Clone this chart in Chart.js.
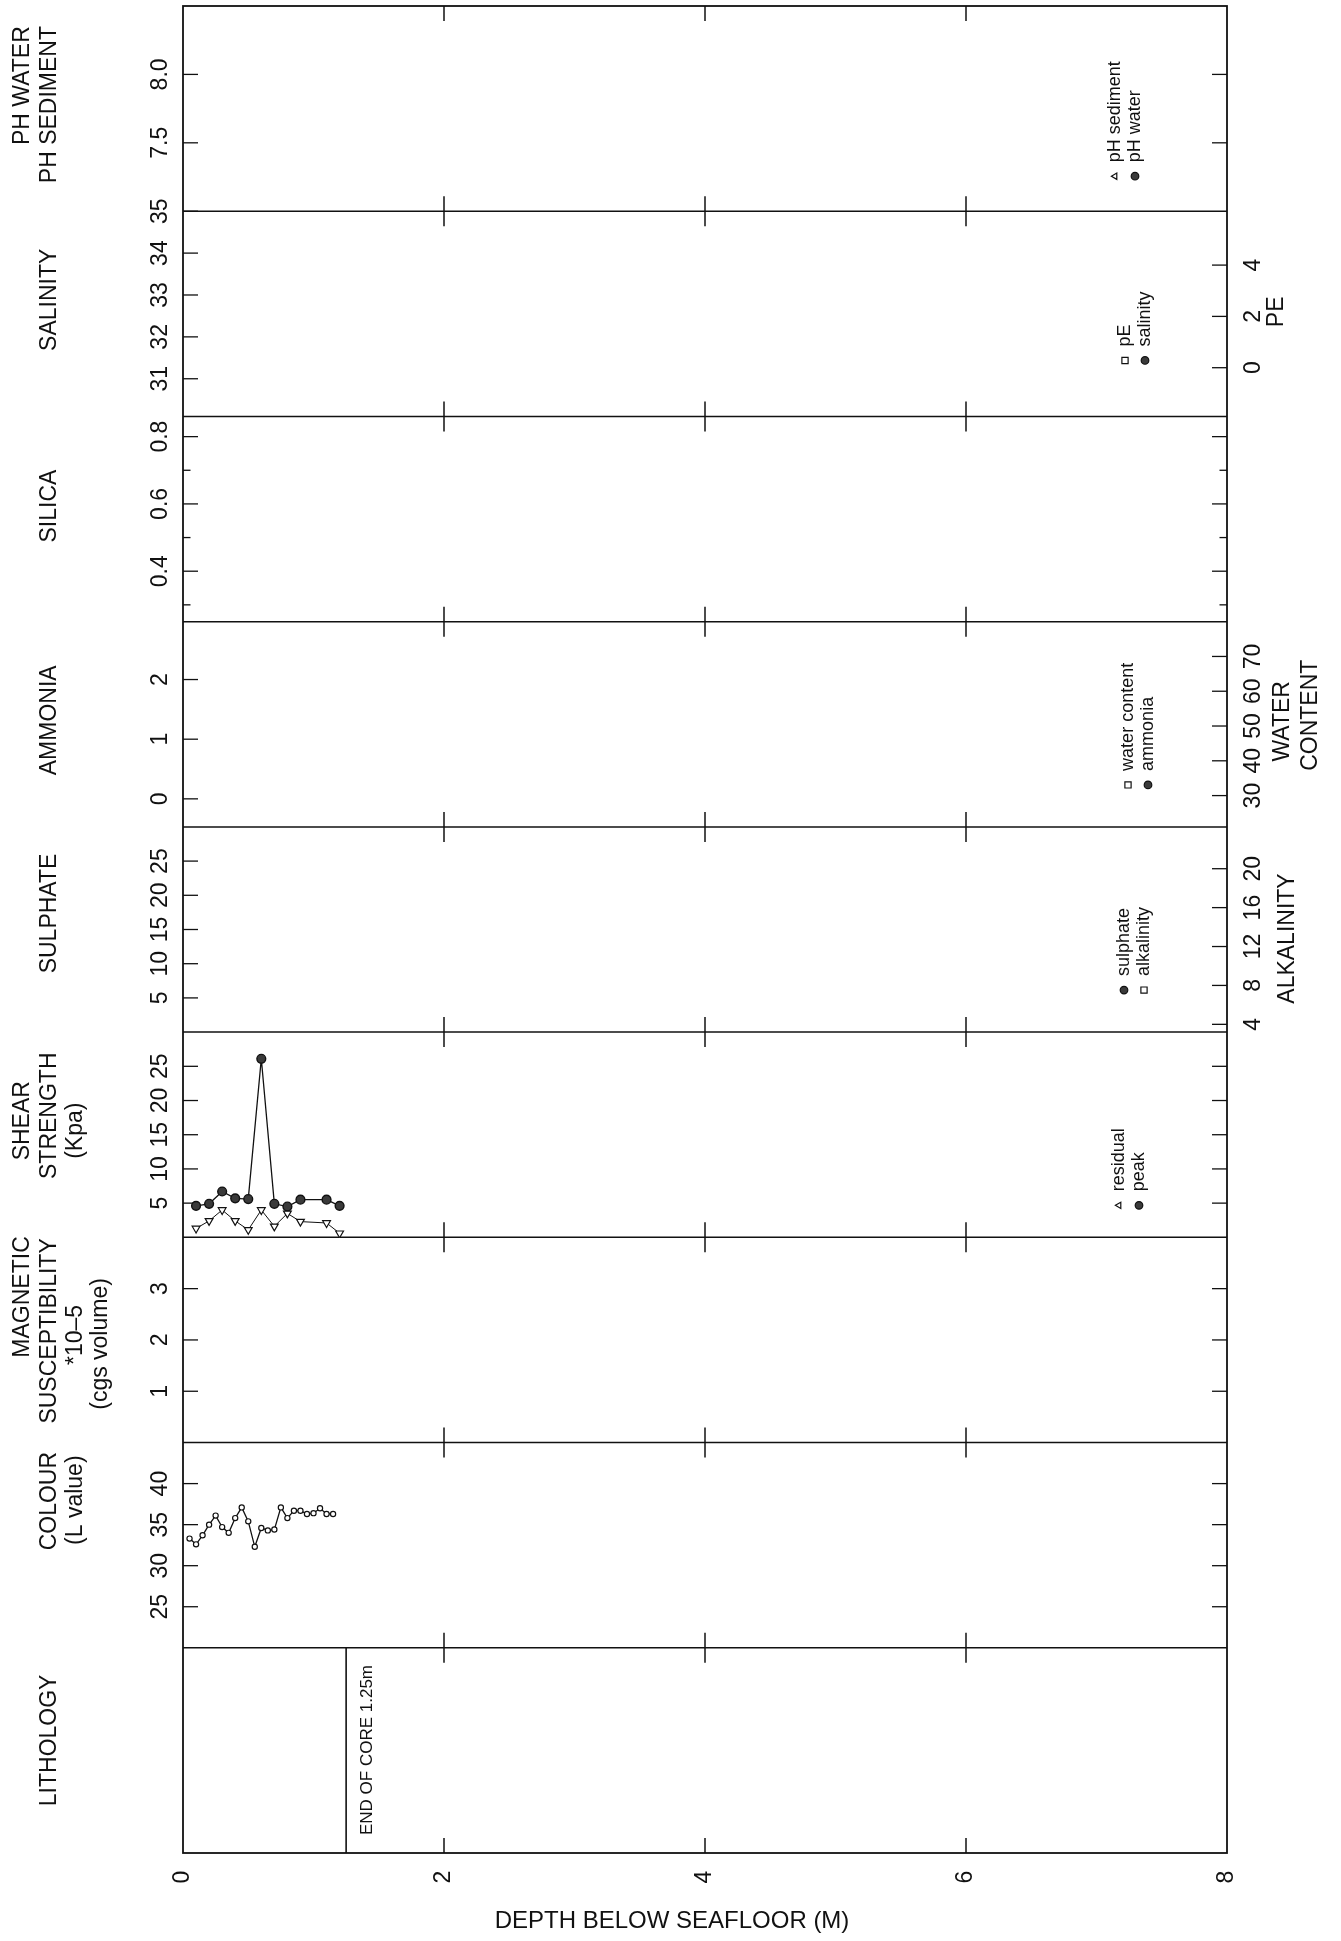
<!DOCTYPE html>
<html>
<head>
<meta charset="utf-8">
<title>Core log – depth below seafloor</title>
<script src="https://cdn.jsdelivr.net/npm/chart.js@4.4.1/dist/chart.umd.min.js"></script>
<style>
  html, body { margin: 0; padding: 0; background: #fff; }
  #wrap { width: 1341px; height: 1941px; }
</style>
</head>
<body>
<div id="wrap"><canvas id="log" width="1341" height="1941"></canvas></div>
<script>
const INK = '#111';
const FONT = '"Liberation Sans", Arial, sans-serif';

// ---- axis labels ----
const depthLabels = ['0', '2', '4', '6', '8'];
const phLabels = ['7.5', '8.0'];
const salinityLabels = ['31', '32', '33', '34', '35'];
const peLabels = ['0', '2', '4'];
const silicaLabels = ['0.4', '0.6', '0.8'];
const silicaMinor = [0.3, 0.5, 0.7];
const ammoniaLabels = ['0', '1', '2'];
const waterLabels = ['30', '40', '50', '60', '70'];
const sulphateLabels = ['5', '10', '15', '20', '25'];
const alkalinityLabels = ['4', '8', '12', '16', '20'];
const shearLabels = ['5', '10', '15', '20', '25'];
const magLabels = ['1', '2', '3'];
const colourLabels = ['25', '30', '35', '40'];

// ---- measurements ----
const shearDepth = [0.1, 0.2, 0.3, 0.4, 0.5, 0.6, 0.7, 0.8, 0.9, 1.1, 1.2];
const shearPeak = [4.6, 4.9, 6.7, 5.7, 5.6, 26.1, 4.9, 4.5, 5.5, 5.5, 4.6];
const shearResidual = [1.3, 2.4, 4.0, 2.4, 1.1, 4.0, 1.6, 3.5, 2.3, 2.1, 0.6];

const colourDepth = [0.05, 0.10, 0.15, 0.20, 0.25, 0.30, 0.35, 0.40, 0.45, 0.50, 0.55, 0.60,
  0.65, 0.70, 0.75, 0.80, 0.85, 0.90, 0.95, 1.00, 1.05, 1.10, 1.15];
const colourL = [33.3, 32.6, 33.7, 35.0, 36.1, 34.7, 34.0, 35.8, 37.1, 35.4, 32.3, 34.6,
  34.3, 34.4, 37.1, 35.8, 36.7, 36.7, 36.3, 36.4, 37.0, 36.3, 36.3];

const coreLength = 1.25;

// value range of every track axis
const ranges = {
  ph: [7.0, 8.5], sal: [30.1, 35], pe: [-1.9, 6.1], sil: [0.25, 0.86],
  amm: [-0.47, 2.97], water: [21, 80], sul: [0, 30], alk: [3.2, 24.3],
  shear: [0, 30], mag: [0, 4], col: [20, 45], lith: [0, 1],
};

// tracks from top to bottom; "right" is a second quantity on the right edge
const panels = [
  { id: 'ph', labels: phLabels },
  { id: 'sal', labels: salinityLabels, right: 'pe' },
  { id: 'sil', labels: silicaLabels, minor: silicaMinor },
  { id: 'amm', labels: ammoniaLabels, right: 'water' },
  { id: 'sul', labels: sulphateLabels, right: 'alk' },
  { id: 'shear', labels: shearLabels },
  { id: 'mag', labels: magLabels },
  { id: 'col', labels: colourLabels },
  { id: 'lith', labels: [] },
];
const rightLabels = { pe: peLabels, water: waterLabels, alk: alkalinityLabels };
const rightId = (p) => p.right || p.id + 'R';

// ---- text placement ----
const TICK = 15;
const LEFT_LABEL_X = 161;
const RIGHT_LABEL_X = 1254;
const TITLE_COLS = [23, 50, 76, 101];
const leftTitles = {
  ph: [['PH WATER', 0, -23], ['PH SEDIMENT', 1, -4]],
  sal: [['SALINITY', 1, -14]],
  sil: [['SILICA', 1, -13]],
  amm: [['AMMONIA', 1, -4]],
  sul: [['SULPHATE', 1, -16]],
  shear: [['SHEAR', 0, -14], ['STRENGTH', 1, -19], ['(Kpa)', 2, -4]],
  mag: [['MAGNETIC', 0, -43], ['SUSCEPTIBILITY', 1, -9], ['*10–5', 2, -5], ['(cgs volume)', 3, 4]],
  col: [['COLOUR', 1, -44], ['(L value)', 2, -45]],
  lith: [['LITHOLOGY', 1, -10]],
};
const rightTitles = {
  pe: [['PE', 1277, -2]],
  water: [['WATER', 1283, -3], ['CONTENT', 1311, -9]],
  alk: [['ALKALINITY', 1288, 9]],
};
const legendGroups = [
  { panel: 'ph', items: ['pH sediment', 'pH water'], x: 1115, dy: -35 },
  { panel: 'sal', items: ['pE', 'salinity'], x: 1125, dy: -56 },
  { panel: 'amm', items: ['water content', 'ammonia'], x: 1128, dy: -42 },
  { panel: 'sul', items: ['sulphate', 'alkalinity'], x: 1124, dy: -42 },
  { panel: 'shear', items: ['residual', 'peak'], x: 1119, dy: -32 },
];

// ---- scales ----
function trackAxis(position, weight, range, labels) {
  return {
    type: 'linear', position, stack: 'log', stackWeight: 1, weight,
    min: range[0], max: range[1], display: false,
    ticks: { autoSkip: false, callback: (v, i) => labels[i] },
    afterBuildTicks: (axis) => { axis.ticks = labels.map(l => ({ value: Number(l) })); },
  };
}

const scales = {
  x: {
    type: 'linear', min: 0, max: 8, display: false,
    ticks: { autoSkip: false, callback: (v, i) => depthLabels[i] },
    afterBuildTicks: (axis) => { axis.ticks = depthLabels.map(l => ({ value: Number(l) })); },
  },
};
panels.forEach((p, i) => {
  // left stack is laid out heaviest-first, right stack lightest-first
  scales[p.id] = trackAxis('left', panels.length - i, ranges[p.id], p.labels);
  scales[rightId(p)] = trackAxis('right', i + 1, ranges[p.right || p.id],
    p.right ? rightLabels[p.right] : p.labels);
});

// ---- datasets ----
const pts = (xs, ys) => xs.map((x, i) => ({ x, y: ys[i] }));
const filled = { pointBackgroundColor: '#3a3a3a', pointBorderColor: INK, pointBorderWidth: 1.4 };
const open = { pointBackgroundColor: '#fff', pointBorderColor: INK, pointBorderWidth: 1.2 };

const datasets = [
  { label: 'pH sediment', yAxisID: 'ph', data: [], pointStyle: 'triangle', pointRotation: 180, pointRadius: 3.6, ...open },
  { label: 'pH water', yAxisID: 'ph', data: [], pointStyle: 'circle', pointRadius: 4, ...filled },
  { label: 'pE', yAxisID: 'pe', data: [], pointStyle: 'rect', pointRadius: 4.6, ...open },
  { label: 'salinity', yAxisID: 'sal', data: [], pointStyle: 'circle', pointRadius: 4, ...filled },
  { label: 'water content', yAxisID: 'water', data: [], pointStyle: 'rect', pointRadius: 4.6, ...open },
  { label: 'ammonia', yAxisID: 'amm', data: [], pointStyle: 'circle', pointRadius: 4, ...filled },
  { label: 'sulphate', yAxisID: 'sul', data: [], pointStyle: 'circle', pointRadius: 4, ...filled },
  { label: 'alkalinity', yAxisID: 'alk', data: [], pointStyle: 'rect', pointRadius: 4.6, ...open },
  {
    label: 'residual', yAxisID: 'shear', data: pts(shearDepth, shearResidual),
    borderColor: INK, borderWidth: 1, pointStyle: 'triangle', pointRotation: 180, pointRadius: 4.5, ...open,
  },
  {
    label: 'peak', yAxisID: 'shear', data: pts(shearDepth, shearPeak),
    borderColor: INK, borderWidth: 1.3, pointStyle: 'circle', pointRadius: 4.4, ...filled,
  },
  {
    label: 'L value', yAxisID: 'col', data: pts(colourDepth, colourL),
    borderColor: INK, borderWidth: 1.3, pointStyle: 'circle', pointRadius: 2.6, ...open,
  },
  {
    label: 'end of core', yAxisID: 'lith', data: [{ x: coreLength, y: 0 }, { x: coreLength, y: 1 }],
    borderColor: INK, borderWidth: 1.6, pointRadius: 0,
  },
];

// ---- drawing helpers ----
function hline(ctx, x1, x2, y) { ctx.beginPath(); ctx.moveTo(x1, y); ctx.lineTo(x2, y); ctx.stroke(); }
function vline(ctx, x, y1, y2) { ctx.beginPath(); ctx.moveTo(x, y1); ctx.lineTo(x, y2); ctx.stroke(); }
function upText(ctx, str, x, y, size, align = 'center') {
  ctx.save();
  ctx.translate(x, y);
  ctx.rotate(-Math.PI / 2);
  ctx.font = `${size}px ${FONT}`;
  ctx.textAlign = align;
  ctx.textBaseline = 'middle';
  ctx.fillText(str, 0, 0);
  ctx.restore();
}

const logFrame = {
  id: 'logFrame',
  beforeDatasetsDraw(chart) {
    const { ctx, chartArea: a, scales: s } = chart;
    const x = s.x;
    ctx.save();
    ctx.strokeStyle = INK;
    ctx.lineWidth = 1.8;
    ctx.strokeRect(a.left, a.top, a.right - a.left, a.bottom - a.top);

    // track separators
    ctx.lineWidth = 1.5;
    panels.forEach((p, i) => { if (i > 0) hline(ctx, a.left, a.right, s[p.id].top); });

    // depth ticks crossing every separator
    const inner = x.ticks.filter(t => t.value > x.min && t.value < x.max);
    const edges = panels.map(p => s[p.id].top).concat([a.bottom]);
    edges.forEach((y, k) => {
      inner.forEach(t => {
        const px = x.getPixelForValue(t.value);
        vline(ctx, px, k === 0 ? y : y - TICK, k === edges.length - 1 ? y : y + TICK);
      });
    });

    // value ticks, pointing into each track
    ctx.lineWidth = 1.3;
    panels.forEach(p => {
      const l = s[p.id], r = s[rightId(p)];
      l.ticks.forEach(t => hline(ctx, a.left, a.left + TICK, l.getPixelForValue(t.value)));
      r.ticks.forEach(t => hline(ctx, a.right - TICK, a.right, r.getPixelForValue(t.value)));
      (p.minor || []).forEach(v => {
        const py = l.getPixelForValue(v);
        hline(ctx, a.left, a.left + TICK / 2, py);
        if (!p.right) hline(ctx, a.right - TICK / 2, a.right, py);
      });
    });
    ctx.restore();
  },
  afterDraw(chart) {
    const { ctx, chartArea: a, scales: s } = chart;
    const x = s.x;
    ctx.save();
    ctx.fillStyle = INK;

    panels.forEach(p => {
      const l = s[p.id];
      const mid = (l.top + l.bottom) / 2;
      l.ticks.forEach(t => upText(ctx, t.label, LEFT_LABEL_X, l.getPixelForValue(t.value), 23));
      (leftTitles[p.id] || []).forEach(([txt, col, dy]) => upText(ctx, txt, TITLE_COLS[col], mid + dy, 23));
      if (p.right) {
        const r = s[p.right];
        r.ticks.forEach(t => upText(ctx, t.label, RIGHT_LABEL_X, r.getPixelForValue(t.value), 23));
        rightTitles[p.right].forEach(([txt, tx, dy]) => upText(ctx, txt, tx, mid + dy, 23));
      }
    });

    // depth axis
    x.ticks.forEach(t => upText(ctx, t.label, x.getPixelForValue(t.value), 1877, 23));
    ctx.font = `24px ${FONT}`;
    ctx.textAlign = 'center';
    ctx.textBaseline = 'middle';
    ctx.fillText('DEPTH BELOW SEAFLOOR (M)', 672, 1921);

    // end of core note beside the core-length line
    const lith = s.lith;
    upText(ctx, `END OF CORE ${coreLength}m`, x.getPixelForValue(coreLength) + 21, lith.bottom - 18, 17, 'left');

    // per-track legends, written along the tracks
    legendGroups.forEach(g => {
      const y = s[g.panel].bottom + g.dy;
      g.items.forEach((name, k) => {
        const ds = chart.data.datasets.find(d => d.label === name);
        const rx = g.x + k * 20;
        ctx.fillStyle = ds.pointBackgroundColor;
        ctx.strokeStyle = ds.pointBorderColor;
        ctx.lineWidth = 1.2;
        const legendRadius = ds.pointStyle === 'triangle' ? 3.6 : ds.pointStyle === 'rect' ? 4.4 : 3.8;
        Chart.helpers.drawPoint(ctx, {
          pointStyle: ds.pointStyle,
          rotation: (ds.pointRotation || 0) + 90,
          radius: legendRadius,
          borderWidth: 1.2,
        }, rx, y);
        ctx.fillStyle = INK;
        upText(ctx, name, rx, y - 14, 18, 'left');
      });
    });
    ctx.restore();
  },
};

new Chart(document.getElementById('log'), {
  type: 'line',
  data: { datasets },
  options: {
    responsive: false,
    animation: false,
    devicePixelRatio: 1,
    layout: { padding: { left: 183, top: 6, right: 114, bottom: 88 } },
    elements: { line: { tension: 0 } },
    plugins: { legend: { display: false }, tooltip: { enabled: false } },
    scales,
  },
  plugins: [logFrame],
});
</script>
</body>
</html>
